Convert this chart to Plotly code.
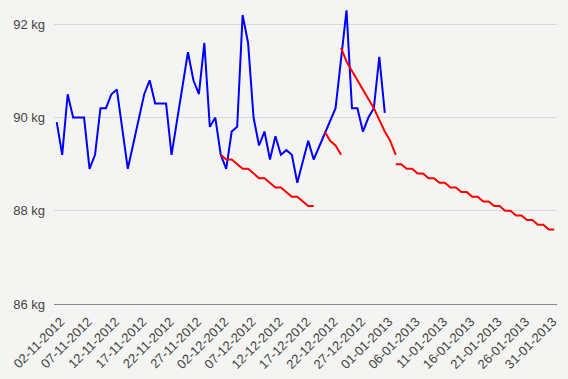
import pandas as pd
import plotly.graph_objects as go

# Categories: one per day, 02-11-2012 .. 01-02-2013
dates = pd.date_range("2012-11-02", "2013-02-01", freq="D")
categories = [d.strftime("%d-%m-%Y") for d in dates]
tick_labels = categories[0:91:5]

# Measured weight (kg), from 02-11-2012; None = no reading
weight = [89.9, 89.2, 90.5, 90.0, 90.0, 90.0, 88.9, 89.2, 90.2, 90.2,
          90.5, 90.6, None, 88.9, None, None, 90.5, 90.8, 90.3, 90.3,
          90.3, 89.2, None, None, 91.4, 90.8, 90.5, 91.6, 89.8, 90.0,
          89.2, 88.9, 89.7, 89.8, 92.2, 91.6, 90.0, 89.4, 89.7, 89.1,
          89.6, 89.2, 89.3, 89.2, 88.6, None, 89.5, 89.1, None, None,
          None, 90.2, None, 92.3, 90.2, 90.2, 89.7, 90.0, 90.2, 91.3,
          90.1]

# Target / trend segments (red), each with its starting category index
trend1_start = 30
trend1 = [89.2, 89.1, 89.1, 89.0, 88.9, 88.9, 88.8, 88.7, 88.7, 88.6,
          88.5, 88.5, 88.4, 88.3, 88.3, 88.2, 88.1, 88.1]
trend2_start = 49
trend2 = [89.7, 89.5, 89.4, 89.2]
trend3_start = 52
trend3 = [91.5, 91.2, 91.0, 90.8, 90.6, 90.4, 90.2, 89.95, 89.7, 89.5, 89.2]
trend4_start = 62
trend4 = [89.0, 89.0, 88.9, 88.9, 88.8, 88.8, 88.7, 88.7, 88.6, 88.6,
          88.5, 88.5, 88.4, 88.4, 88.3, 88.3, 88.2, 88.2, 88.1, 88.1,
          88.0, 88.0, 87.9, 87.9, 87.8, 87.8, 87.7, 87.7, 87.6, 87.6]

y_ticks = [86, 88, 90, 92]

fig = go.Figure()
fig.add_trace(go.Scatter(
    x=categories[:len(weight)], y=weight, mode="lines", connectgaps=True,
    line=dict(color="#0000ff", width=2), showlegend=False))
for start, vals in [(trend1_start, trend1), (trend2_start, trend2),
                    (trend3_start, trend3), (trend4_start, trend4)]:
    fig.add_trace(go.Scatter(
        x=categories[start:start + len(vals)], y=vals, mode="lines",
        line=dict(color="#ff0000", width=2), showlegend=False))

font = dict(family="Arial, Liberation Sans, sans-serif", size=13, color="#444444")
fig.update_layout(
    width=568, height=379,
    margin=dict(l=54, r=11, t=1, b=75),
    paper_bgcolor="#f4f5f2", plot_bgcolor="#f4f5f2",
    font=font,
    xaxis=dict(type="category", categoryorder="array", categoryarray=categories,
               range=[-0.5, len(categories) - 0.5],
               tickmode="array", tickvals=tick_labels, ticktext=tick_labels,
               tickangle=-45, showgrid=False, zeroline=False,
               showline=True, linecolor="#8a8a8a", linewidth=1,
               ticks="", ticklabelshift=4, ticklabelstandoff=4,
               tickfont=font, automargin=False),
    yaxis=dict(range=[86, 92.5], tickmode="array", tickvals=y_ticks,
               ticktext=[f"{v} kg" for v in y_ticks],
               showgrid=True, gridcolor="#dcd9de", gridwidth=1,
               zeroline=False, showline=False, ticks="",
               ticklabelstandoff=8, tickfont=font, automargin=False),
)

fig.write_html("out.html",
               config={"displayModeBar": False},
               post_script="document.body.style.margin='0';"
                           "document.body.style.overflow='hidden';")
